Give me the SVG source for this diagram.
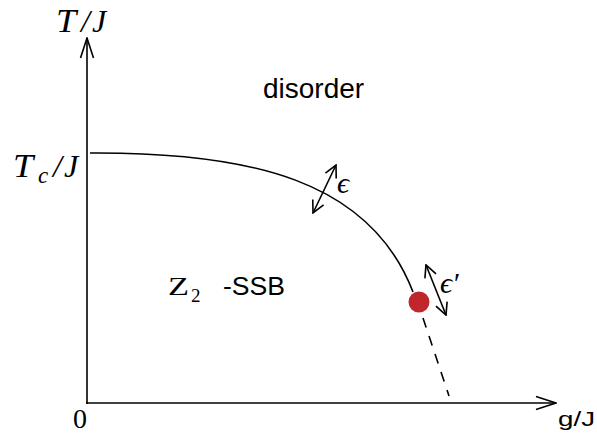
<svg xmlns="http://www.w3.org/2000/svg" width="597" height="434" viewBox="0 0 597 434">
<style>
.ax{stroke:#000;stroke-width:1.6;fill:none}
.ln{stroke:#000;stroke-width:1.6;fill:none}
.serif{font-family:"Liberation Serif","DejaVu Serif",serif;font-style:italic;fill:#000}
.roman{font-family:"Liberation Serif","DejaVu Serif",serif;fill:#000}
.sans{font-family:"Liberation Sans",Arial,sans-serif;fill:#000}
</style>
<defs>
<marker id="ah" viewBox="0 0 14 14" refX="13" refY="7" markerWidth="14" markerHeight="14" markerUnits="userSpaceOnUse" orient="auto-start-reverse">
<path d="M1,1 L13,7 L1,13" fill="none" stroke="#000" stroke-width="1.6"/>
</marker>
<marker id="ax" viewBox="0 0 22 16" refX="21" refY="8" markerWidth="22" markerHeight="16" markerUnits="userSpaceOnUse" orient="auto">
<path d="M1,1.5 L21,8 L1,14.5" fill="none" stroke="#000" stroke-width="1.6"/>
</marker>
</defs>
<g id="connectors">
<line class="ax" x1="87" y1="404" x2="87" y2="38" marker-end="url(#ax)"/>
<line class="ax" x1="86" y1="403" x2="556" y2="403" marker-end="url(#ax)"/>
<path class="ln" d="M90,153 C250,152 370,180 413,292"/>
<line class="ln" x1="423" y1="318" x2="449" y2="396" stroke-dasharray="10,9"/>
<line class="ln" x1="336" y1="165" x2="313" y2="213" marker-start="url(#ah)" marker-end="url(#ah)"/>
<line class="ln" x1="426" y1="265" x2="446" y2="315" marker-start="url(#ah)" marker-end="url(#ah)"/>
</g>
<g id="critical-point"><circle cx="419" cy="302" r="10.5" fill="#c0272d"/></g>
<g id="axis-labels">
<text class="serif" font-size="33" transform="translate(56,32) scale(1.1,1)">T</text>
<text class="serif" x="81" y="32" font-size="32">/</text>
<text class="serif" x="92" y="32" font-size="32">J</text>
<text class="serif" font-size="33" transform="translate(13,177) scale(1.1,1)">T</text>
<text class="serif" x="38" y="183" font-size="23">c</text>
<text class="serif" x="53" y="177" font-size="32">/</text>
<text class="serif" x="64" y="177" font-size="32">J</text>
<text class="roman" x="73" y="428" font-size="28">0</text>
<text class="sans" x="558" y="426" font-size="21" textLength="37" lengthAdjust="spacingAndGlyphs">g/J</text>
</g>
<g id="disorder"><text class="sans" x="263" y="98" font-size="28">disorder</text></g>
<g id="ssb"><text class="roman" x="168" y="295" font-size="26" textLength="21" lengthAdjust="spacingAndGlyphs">Z</text><text class="roman" x="191" y="302" font-size="19">2</text><text class="sans" x="223" y="295" font-size="25" textLength="62" lengthAdjust="spacingAndGlyphs">-SSB</text></g>
<g id="eps"><text class="serif" x="337" y="193" font-size="30">ϵ</text></g>
<g id="eps-prime"><text class="serif" x="440" y="293" font-size="30">ϵ′</text></g>
</svg>
